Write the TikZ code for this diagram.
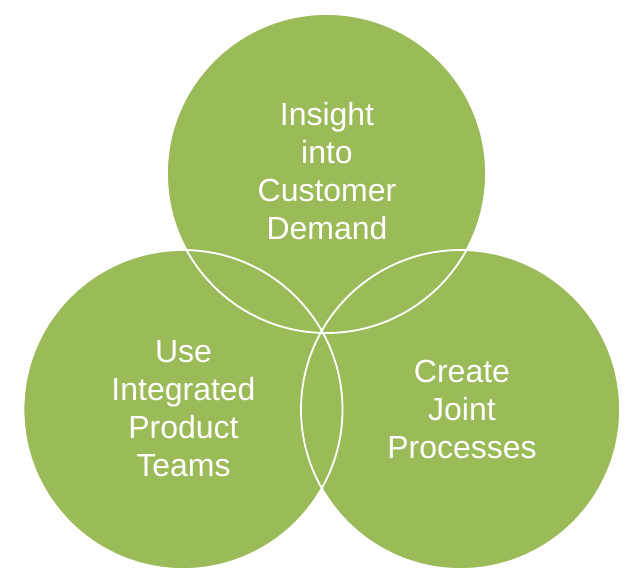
\documentclass[tikz,border=0pt]{standalone}
\usepackage{fontspec}
\setmainfont{Liberation Sans}
\definecolor{venngreen}{HTML}{9BBB59}
\begin{document}
\begin{tikzpicture}[x=1pt,y=-1pt,
  vfill/.style={circle,fill=venngreen,minimum size=319pt,inner sep=0pt},
  vline/.style={circle,draw=white,line width=1.8pt,minimum size=319pt,inner sep=0pt},
  vtext/.style={text=white,align=center,font=\fontsize{32}{38}\selectfont}]
\useasboundingbox (0,0) rectangle (633,574);
\node[vfill] (top) at (326.5,173.5) {};
\node[vfill] (left) at (183,409.5) {};
\node[vfill] (right) at (460.5,409.5) {};
\node[vline] (topo) at (326.5,173.5) {};
\node[vline] (lefto) at (183,409.5) {};
\node[vline] (righto) at (460.5,409.5) {};
\node[vtext] (toptext) at (327,171.5) {Insight\\into\\Customer\\Demand};
\node[vtext] (lefttext) at (183.5,409) {Use\\Integrated\\Product\\Teams};
\node[vtext] (righttext) at (462,409) {Create\\Joint\\Processes};
\end{tikzpicture}
\end{document}
